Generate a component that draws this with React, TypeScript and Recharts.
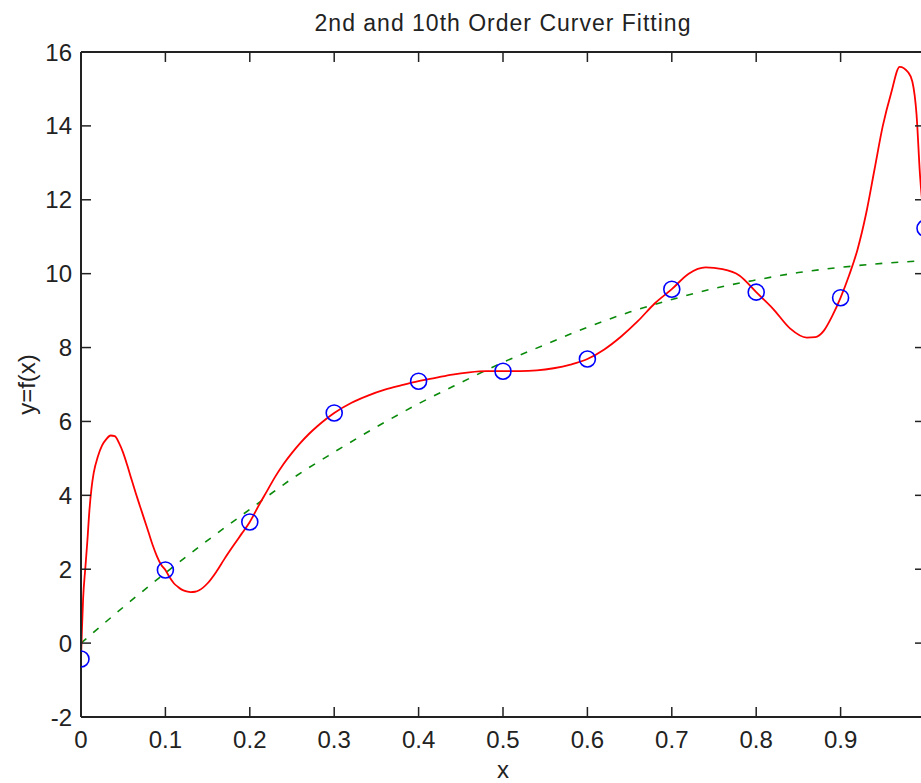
import React from 'react'
import { ComposedChart, Line, Scatter, XAxis, YAxis } from 'recharts'

// tick positions
const xTicks = [0, 0.1, 0.2, 0.3, 0.4, 0.5, 0.6, 0.7, 0.8, 0.9, 1]
const yTicks = [-2, 0, 2, 4, 6, 8, 10, 12, 14, 16]

// measured samples (blue circles)
const sampleX = [0, 0.1, 0.2, 0.3, 0.4, 0.5, 0.6, 0.7, 0.8, 0.9, 1]
const sampleY = [-0.43, 1.98, 3.28, 6.23, 7.09, 7.36, 7.69, 9.58, 9.5, 9.35, 11.23]

// 10th order fit (red)
const fit10X = [
  0, 0.001, 0.0025, 0.005, 0.0075, 0.01, 0.0125, 0.015, 0.02, 0.025, 0.03, 0.035, 0.04, 0.045,
  0.05, 0.055, 0.06, 0.065, 0.07, 0.075, 0.08, 0.085, 0.09, 0.095, 0.1, 0.105, 0.11, 0.115, 0.12,
  0.125, 0.13, 0.135, 0.14, 0.15, 0.16, 0.17, 0.18, 0.19, 0.2, 0.21, 0.22, 0.23, 0.24, 0.25, 0.26,
  0.27, 0.28, 0.29, 0.3, 0.32, 0.34, 0.36, 0.38, 0.4, 0.42, 0.44, 0.46, 0.48, 0.5, 0.52, 0.54, 0.56,
  0.58, 0.6, 0.62, 0.64, 0.66, 0.68, 0.7, 0.72, 0.74, 0.76, 0.78, 0.8, 0.82, 0.84, 0.86, 0.87, 0.88,
  0.89, 0.9, 0.91, 0.92, 0.93, 0.94, 0.95, 0.96, 0.97, 0.98, 0.985, 0.99, 0.994, 1,
]
const fit10Y = [
  -0.43, 0.3, 1.2, 2.0, 2.75, 3.6, 4.2, 4.6, 5.05, 5.35, 5.52, 5.62, 5.6, 5.42,
  5.15, 4.8, 4.42, 4.05, 3.7, 3.35, 3.0, 2.65, 2.35, 2.12, 1.98, 1.78, 1.62, 1.52, 1.44,
  1.4, 1.38, 1.39, 1.43, 1.62, 1.92, 2.28, 2.62, 2.95, 3.28, 3.7, 4.1, 4.5, 4.85, 5.15, 5.42,
  5.66, 5.87, 6.06, 6.23, 6.5, 6.7, 6.86, 6.98, 7.09, 7.18, 7.27, 7.33, 7.36, 7.36, 7.36, 7.38, 7.44,
  7.54, 7.69, 7.95, 8.3, 8.72, 9.2, 9.58, 10.0, 10.17, 10.12, 9.95, 9.5, 9.05, 8.52, 8.27, 8.28, 8.45,
  8.85, 9.35, 9.95, 10.65, 11.6, 12.8, 14.0, 14.9, 15.6, 15.45, 15.2, 14.3, 12.7, 11.23,
]

// 2nd order fit (green dashed)
const fit2X = [0, 0.05, 0.1, 0.15, 0.2, 0.25, 0.3, 0.35, 0.4, 0.45, 0.5, 0.55, 0.6, 0.65, 0.7, 0.75, 0.8, 0.85, 0.9, 0.95, 1]
const fit2Y = [0, 0.97, 1.9, 2.78, 3.62, 4.45, 5.17, 5.85, 6.48, 7.05, 7.6, 8.08, 8.55, 8.96, 9.3, 9.6, 9.83, 10.03, 10.17, 10.28, 10.35]

const samples = sampleX.map((x, i) => ({ x, y: sampleY[i] }))
const fit10 = fit10X.map((x, i) => ({ x, y: fit10Y[i] }))
const fit2 = fit2X.map((x, i) => ({ x, y: fit2Y[i] }))

const FONT = '"Liberation Sans", Arial, sans-serif'
const AXIS = '#222'
const TICK_LEN = 10

// plot box edges (set by the chart margins below)
const CHART_W = 960
const CHART_H = 783
const M_TOP = 42
const M_RIGHT = 25
const TOP_AXIS_H = 10
const BOTTOM_AXIS_H = 66
const LEFT_AXIS_W = 81
const RIGHT_AXIS_W = 10
const PLOT_TOP = M_TOP + TOP_AXIS_H
const PLOT_BOTTOM = CHART_H - BOTTOM_AXIS_H
const PLOT_LEFT = LEFT_AXIS_W
const PLOT_RIGHT = CHART_W - M_RIGHT - RIGHT_AXIS_W

// matlab style: tick marks point into the plot box
function BottomTick(props: any) {
  const { x, y, payload } = props
  return (
    <g>
      <line x1={x} x2={x} y1={PLOT_BOTTOM} y2={PLOT_BOTTOM - TICK_LEN} stroke={AXIS} strokeWidth={1.5} />
      {payload.value < 1 && (
        <text x={x} y={y} dy="0.71em" textAnchor="middle" fill={AXIS} fontSize={24} fontFamily={FONT}>
          {payload.value}
        </text>
      )}
    </g>
  )
}

function LeftTick(props: any) {
  const { x, y, payload } = props
  return (
    <g>
      <line x1={PLOT_LEFT} x2={PLOT_LEFT + TICK_LEN} y1={y} y2={y} stroke={AXIS} strokeWidth={1.5} />
      <text x={x} y={y} dy="0.355em" textAnchor="end" fill={AXIS} fontSize={24} fontFamily={FONT}>
        {payload.value}
      </text>
    </g>
  )
}

function TopTick(props: any) {
  const { x } = props
  return <line x1={x} x2={x} y1={PLOT_TOP} y2={PLOT_TOP + TICK_LEN} stroke={AXIS} strokeWidth={1.5} />
}

function RightTick(props: any) {
  const { y } = props
  return <line x1={PLOT_RIGHT} x2={PLOT_RIGHT - TICK_LEN} y1={y} y2={y} stroke={AXIS} strokeWidth={1.5} />
}

function CircleMarker(props: any) {
  const { cx, cy } = props
  if (cx == null || cy == null) return null
  return <circle cx={cx} cy={cy} r={8} fill="none" stroke="#0000ff" strokeWidth={1.6} />
}

export default function App() {
  return (
    <div
      style={{
        position: 'fixed',
        top: 0,
        left: 0,
        width: 921,
        height: 783,
        overflow: 'hidden',
        background: '#fff',
      }}
    >
      <div
        style={{
          position: 'absolute',
          left: 0,
          width: PLOT_LEFT + PLOT_RIGHT,
          top: 10,
          textAlign: 'center',
          fontFamily: FONT,
          fontSize: 23,
          letterSpacing: 1,
          color: AXIS,
        }}
      >
        2nd and 10th Order Curver Fitting
      </div>
      <ComposedChart width={CHART_W} height={CHART_H} margin={{ top: M_TOP, right: M_RIGHT, bottom: 0, left: 0 }}>
        <XAxis
          xAxisId="main"
          dataKey="x"
          type="number"
          domain={[0, 1]}
          ticks={xTicks}
          interval={0}
          height={BOTTOM_AXIS_H}
          allowDataOverflow
          tickSize={0}
          tickMargin={14}
          tickLine={false}
          tick={BottomTick}
          axisLine={{ stroke: AXIS, strokeWidth: 2 }}
          label={{ value: 'x', position: 'insideBottom', offset: 5, style: { fill: AXIS, fontSize: 24, fontFamily: FONT } }}
        />
        <XAxis
          xAxisId="top"
          orientation="top"
          dataKey="x"
          type="number"
          domain={[0, 1]}
          ticks={xTicks}
          interval={0}
          height={TOP_AXIS_H}
          allowDataOverflow
          tickSize={0}
          tickMargin={0}
          tickLine={false}
          tick={TopTick}
          axisLine={{ stroke: AXIS, strokeWidth: 2 }}
        />
        <YAxis
          yAxisId="main"
          type="number"
          domain={[-2, 16]}
          ticks={yTicks}
          interval={0}
          width={LEFT_AXIS_W}
          allowDataOverflow
          tickSize={0}
          tickMargin={9}
          tickLine={false}
          tick={LeftTick}
          axisLine={{ stroke: AXIS, strokeWidth: 2 }}
          label={{
            value: 'y=f(x)',
            angle: -90,
            position: 'insideLeft',
            offset: 26,
            style: { textAnchor: 'middle', fill: AXIS, fontSize: 24, fontFamily: FONT },
          }}
        />
        <YAxis
          yAxisId="right"
          orientation="right"
          type="number"
          domain={[-2, 16]}
          ticks={yTicks}
          interval={0}
          width={RIGHT_AXIS_W}
          allowDataOverflow
          tickSize={0}
          tickMargin={0}
          tickLine={false}
          tick={RightTick}
          axisLine={{ stroke: AXIS, strokeWidth: 2 }}
        />
        <Line
          xAxisId="main"
          yAxisId="main"
          data={fit2}
          dataKey="y"
          type="monotone"
          stroke="#0a8a0a"
          strokeWidth={1.6}
          strokeDasharray="7 9"
          dot={false}
          activeDot={false}
          isAnimationActive={false}
        />
        <Line
          xAxisId="main"
          yAxisId="main"
          data={fit10}
          dataKey="y"
          type="monotone"
          stroke="#ff0000"
          strokeWidth={1.8}
          dot={false}
          activeDot={false}
          isAnimationActive={false}
        />
        <Scatter
          xAxisId="main"
          yAxisId="main"
          data={samples}
          dataKey="y"
          shape={CircleMarker}
          isAnimationActive={false}
        />
      </ComposedChart>
    </div>
  )
}
